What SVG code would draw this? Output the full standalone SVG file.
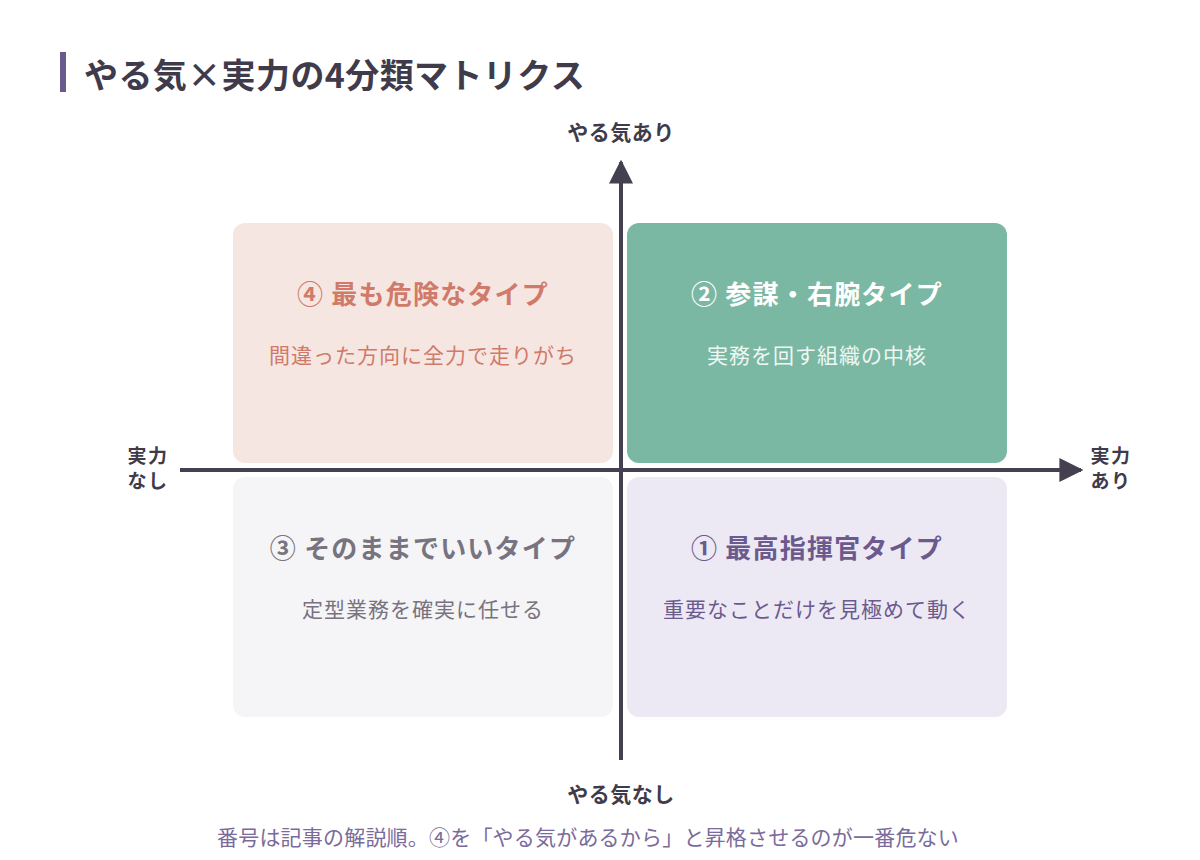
<svg xmlns="http://www.w3.org/2000/svg" width="1200" height="860" viewBox="0 0 1200 860">
<defs>
<style>
text{font-family:"Noto Sans CJK JP","Noto Sans",sans-serif;}
.t{font-size:26px;font-weight:700;text-anchor:middle;letter-spacing:1.2px;}
.s{font-size:21px;font-weight:400;text-anchor:middle;letter-spacing:1px;}
.ax{font-size:21px;font-weight:700;fill:#3f3b4b;text-anchor:middle;letter-spacing:0.5px;}
.axs{font-size:19px;font-weight:700;fill:#3f3b4b;text-anchor:middle;letter-spacing:1.5px;}
.axis{stroke:#45404f;stroke-width:4;fill:none;}
</style>
<marker id="arr" viewBox="0 0 10 10" refX="9" refY="5" markerWidth="6" markerHeight="6" markerUnits="strokeWidth" orient="auto">
<path d="M0,0 L10,5 L0,10 Z" fill="#45404f"/>
</marker>
</defs>
<rect width="1200" height="860" fill="#ffffff"/>
<g id="title">
<rect x="60" y="52" width="6" height="40" fill="#6b5a8e"/>
<text x="84" y="88" font-size="34" font-weight="700" fill="#3f3b4b" letter-spacing="0.4">やる気×実力の4分類マトリクス</text>
</g>
<g id="q4">
<rect x="233" y="223" width="380" height="240" rx="12" fill="#f6e6e2"/>
<text class="t" x="423" y="304" fill="#d07a6a">④ 最も危険なタイプ</text>
<text class="s" x="423" y="363" fill="#d07a6a">間違った方向に全力で走りがち</text>
</g>
<g id="q2">
<rect x="627" y="223" width="380" height="240" rx="12" fill="#7bb8a3"/>
<text class="t" x="817" y="304" fill="#ffffff">② 参謀・右腕タイプ</text>
<text class="s" x="817" y="363" fill="#eef7f3">実務を回す組織の中核</text>
</g>
<g id="q3">
<rect x="233" y="477" width="380" height="240" rx="12" fill="#f5f5f7"/>
<text class="t" x="423" y="558" fill="#77737f">③ そのままでいいタイプ</text>
<text class="s" x="423" y="617" fill="#77737f">定型業務を確実に任せる</text>
</g>
<g id="q1">
<rect x="627" y="477" width="380" height="240" rx="12" fill="#ede9f4"/>
<text class="t" x="817" y="558" fill="#6b5a8e">① 最高指揮官タイプ</text>
<text class="s" x="817" y="617" fill="#6b5a8e">重要なことだけを見極めて動く</text>
</g>
<g id="connectors">
<line class="axis" x1="621" y1="760" x2="621" y2="162" marker-end="url(#arr)"/>
<line class="axis" x1="180" y1="470" x2="1081" y2="470" marker-end="url(#arr)"/>
</g>
<g id="labels">
<text class="ax" x="621" y="140">やる気あり</text>
<text class="ax" x="621" y="802">やる気なし</text>
<text class="axs" x="148" y="463"><tspan x="148" y="463">実力</tspan><tspan x="148" y="488">なし</tspan></text>
<text class="axs" x="1111" y="463"><tspan x="1111" y="463">実力</tspan><tspan x="1111" y="488">あり</tspan></text>
</g>
<g id="footer">
<text x="588" y="845" font-size="21" fill="#7a6b9a" text-anchor="middle" letter-spacing="0.2">番号は記事の解説順。④を「やる気があるから」と昇格させるのが一番危ない</text>
</g>
</svg>
